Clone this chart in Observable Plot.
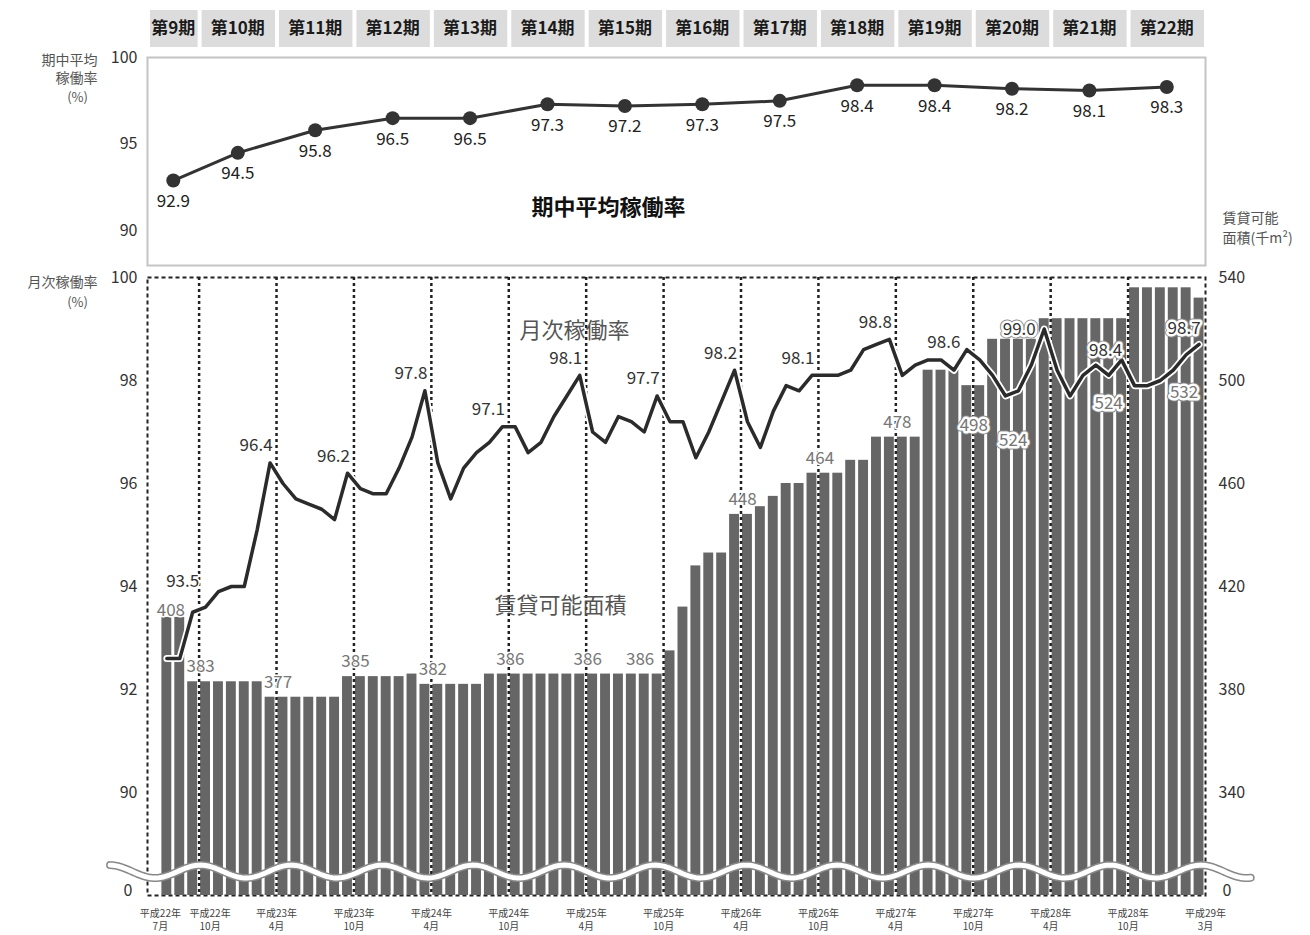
<!DOCTYPE html>
<html>
<head>
<meta charset="utf-8">
<script src="https://cdn.jsdelivr.net/npm/d3@7"></script>
<script src="https://cdn.jsdelivr.net/npm/@observablehq/plot@0.6"></script>
<style>
  body { margin: 0; background: #fff; }
  #chart { width: 1310px; }
  #chart svg { display: block; }
</style>
</head>
<body>
<div id="chart"></div>
<script>
// ---------------- DATA ----------------
const periodNames = ["第9期","第10期","第11期","第12期","第13期","第14期","第15期","第16期","第17期","第18期","第19期","第20期","第21期","第22期"];
const periodEndMonths = ["2010-09","2011-03","2011-09","2012-03","2012-09","2013-03","2013-09","2014-03","2014-09","2015-03","2015-09","2016-03","2016-09","2017-03"];
const periodAverageRate = [92.9, 94.5, 95.8, 96.5, 96.5, 97.3, 97.2, 97.3, 97.5, 98.4, 98.4, 98.2, 98.1, 98.3];

const chartStartMonth = "2010-06";   // left edge of the plotting frame
const firstMonth = "2010-07";        // first monthly value
// 月次稼働率 (%) : 2010-07 … 2017-03
const monthlyRate = [
  92.6, 92.6, 93.5, 93.6, 93.9, 94.0, 94.0, 95.1, 96.4, 96.0,
  95.7, 95.6, 95.5, 95.3, 96.2, 95.9, 95.8, 95.8, 96.3, 96.9,
  97.8, 96.4, 95.7, 96.3, 96.6, 96.8, 97.1, 97.1, 96.6, 96.8,
  97.3, 97.7, 98.1, 97.0, 96.8, 97.3, 97.2, 97.0, 97.7, 97.2,
  97.2, 96.5, 97.0, 97.6, 98.2, 97.2, 96.7, 97.4, 97.9, 97.8,
  98.1, 98.1, 98.1, 98.2, 98.6, 98.7, 98.8, 98.1, 98.3, 98.4,
  98.4, 98.2, 98.6, 98.4, 98.1, 97.7, 97.8, 98.3, 99.0, 98.2,
  97.7, 98.1, 98.3, 98.1, 98.4, 97.9, 97.9, 98.0, 98.2, 98.5,
  98.7
];
// 賃貸可能面積 (千m²) : 2010-07 … 2017-03
const leasableArea = [
  408, 408, 383, 383, 383, 383, 383, 383, 377, 377,
  377, 377, 377, 377, 385, 385, 385, 385, 385, 386,
  382, 382, 382, 382, 382, 386, 386, 386, 386, 386,
  386, 386, 386, 386, 386, 386, 386, 386, 386, 395,
  412, 428, 433, 433, 448, 448, 451, 455, 460, 460,
  464, 464, 464, 469, 469, 478, 478, 478, 478, 504,
  504, 504, 498, 498, 516, 516, 516, 516, 524, 524,
  524, 524, 524, 524, 524, 536, 536, 536, 536, 536,
  532
];

const xTickMonths = ["2010-07","2010-10","2011-04","2011-10","2012-04","2012-10","2013-04","2013-10","2014-04","2014-10","2015-04","2015-10","2016-04","2016-10","2017-04"];
const xTickLabels = ["平成22年\n7月","平成22年\n10月","平成23年\n4月","平成23年\n10月","平成24年\n4月","平成24年\n10月","平成25年\n4月","平成25年\n10月","平成26年\n4月","平成26年\n10月","平成27年\n4月","平成27年\n10月","平成28年\n4月","平成28年\n10月","平成29年\n3月"];

const avgTicks = [100, 95, 90];
const rateTicks = [100, 98, 96, 94, 92, 90];
const areaTicks = [540, 500, 460, 420, 380, 340];
const breakLabel = "0";

// axis break: both axes show "0" at the bottom of the frame
const rateBreak = 88, areaBreak = 300, areaPerRatePoint = 20;

// ---------------- HELPERS ----------------
const FONT = '"Noto Sans CJK JP", "Noto Sans", sans-serif';
function monthIndex(s) {
  const [y, m] = s.split("-").map(Number);
  const [y0, m0] = firstMonth.split("-").map(Number);
  return (y - y0) * 12 + (m - m0);
}
const rateToArea = r => areaBreak + (r - rateBreak) * areaPerRatePoint;

const xDomain = [monthIndex(chartStartMonth) - 0.5, monthlyRate.length - 0.5];
const months = monthlyRate.map((rate, i) => ({i, rate, area: leasableArea[i]}));
const endIdx = periodEndMonths.map(monthIndex);
const periods = periodNames.map((name, k) => {
  const start = k === 0 ? xDomain[0] : endIdx[k - 1] + 0.5;
  const end = endIdx[k] + 0.5;
  return {name, start, end, center: (start + end) / 2, avg: periodAverageRate[k]};
});
const boundaries = endIdx.slice(0, -1).map(i => i + 0.5);
const xTicks = xTickMonths.map((m, k) => ({x: monthIndex(m) - 0.5, label: xTickLabels[k], k}));

const W = 1310, ML = 147, MR = 105;
const common = {width: W, marginLeft: ML, marginRight: MR,
  x: {type: "linear", domain: xDomain, axis: null},
  style: {fontFamily: FONT, background: "white", overflow: "visible"}};

// ---------------- HEADER ----------------
const headerChart = Plot.plot({
  ...common, height: 50, marginTop: 10, marginBottom: 3,
  marks: [
    Plot.rect(periods, {x1: "start", x2: "end", fill: "#dcdcdc", insetLeft: 3, insetRight: 1}),
    Plot.text(periods, {x: "center", text: "name", fontSize: 17, fontWeight: "bold", fill: "#1a1a1a"})
  ]
});

// ---------------- TOP CHART (期中平均稼働率) ----------------
const avgChart = Plot.plot({
  ...common, height: 222, marginTop: 7, marginBottom: 7,
  y: {domain: [rateBreak, 100], axis: null},
  marks: [
    Plot.frame({stroke: "#c4c4c4", strokeWidth: 2}),
    Plot.text(avgTicks, {y: d => d, text: d => String(d), frameAnchor: "left", textAnchor: "end", dx: -10, fontSize: 16, fill: "#333"}),
    Plot.text(["期中平均"], {frameAnchor: "top-left", textAnchor: "end", dx: -50, dy: -2, fontSize: 14, fill: "#555"}),
    Plot.text(["稼働率"], {frameAnchor: "top-left", textAnchor: "end", dx: -50, dy: 16, fontSize: 14, fill: "#555"}),
    Plot.text(["(%)"], {frameAnchor: "top-left", textAnchor: "middle", dx: -70, dy: 35, fontSize: 13, fill: "#555"}),
    Plot.line(periods, {x: "center", y: "avg", stroke: "#333", strokeWidth: 3}),
    Plot.dot(periods, {x: "center", y: "avg", r: 7, fill: "#333"}),
    Plot.text(periods, {x: "center", y: "avg", text: d => d.avg.toFixed(1), dy: 21, fontSize: 17, fill: "#222"}),
    Plot.text(["期中平均稼働率"], {frameAnchor: "middle", dx: -68, dy: 46, fontSize: 22, fontWeight: "bold", fill: "#111"}),
    Plot.text(["賃貸可能"], {frameAnchor: "bottom-right", textAnchor: "start", dx: 17, dy: -43, fontSize: 14, fill: "#555"}),
    Plot.text(["面積(千m²)"], {frameAnchor: "bottom-right", textAnchor: "start", dx: 17, dy: -23, fontSize: 14, fill: "#555"})
  ]
});

// ---------------- BOTTOM CHART ----------------
const waveCenter = 309.3, waveAmp = 2.5, waveCrest = 2.6, wavePeriod = 7.05;
const wave = d3.range(-4.4, 84.01, 0.2).map(x => ({x, y: waveCenter + waveAmp * Math.cos(2 * Math.PI * (x - waveCrest) / wavePeriod)}));

const rateLabelOffset = {2: [-10, -31], 62: [-23, -7], 68: [-25, 1], 74: [-16, -9], 80: [-15, -16]};
const areaLabelOffset = {0: [4, -7], 38: [-17, -15], 62: [7, 40], 68: [-31, 122], 74: [-13, 85], 80: [-15, 94]};

function labelMarks(d, yFn, text, fill, off, boxed) {
  const base = {x: "i", y: yFn, text, dx: off[0], dy: off[1], fontSize: 17};
  const out = [];
  if (boxed) {
    out.push(Plot.text([d], {...base, fill: "#8a8a8a", stroke: "#8a8a8a", strokeWidth: 7}));
    out.push(Plot.text([d], {...base, fill, stroke: "white", strokeWidth: 5}));
  } else {
    out.push(Plot.text([d], {...base, fill, stroke: "white", strokeWidth: 3}));
  }
  return out;
}

const areaLabelMarks = [0, ...endIdx].flatMap(i => {
  const off = areaLabelOffset[i] || [8, -15];
  return labelMarks(months[i], "area", d => String(d.area), "#777", off, off[1] > 0);
});
const rateLabelMarks = endIdx.flatMap(i => {
  const off = rateLabelOffset[i] || [-14, -17];
  const boxed = rateToArea(months[i].rate) < months[i].area;
  return labelMarks(months[i], d => rateToArea(d.rate), d => d.rate.toFixed(1), "#333", off, boxed);
});

const monthlyChart = Plot.plot({
  ...common, height: 663, marginTop: 5, marginBottom: 40,
  y: {type: "linear", domain: [areaBreak, 540], axis: null},
  marks: [
    Plot.frame({stroke: "#222", strokeWidth: 2, strokeDasharray: "4,3"}),
    Plot.rect(months, {x1: d => d.i - 0.5, x2: d => d.i + 0.5, y1: () => areaBreak, y2: "area", fill: "#666", insetLeft: 1.5, insetRight: 1.5}),
    Plot.ruleX(boundaries, {stroke: "#222", strokeWidth: 2.5, strokeDasharray: "3,3"}),
    // axis break symbol
    Plot.line(wave, {x: "x", y: "y", stroke: "#888", strokeWidth: 8}),
    Plot.line(wave, {x: "x", y: "y", stroke: "white", strokeWidth: 5}),
    // left axis (月次稼働率)
    Plot.text(rateTicks, {y: d => rateToArea(d), text: d => String(d), frameAnchor: "left", textAnchor: "end", dx: -10, fontSize: 16, fill: "#333"}),
    Plot.text([breakLabel], {frameAnchor: "bottom-left", textAnchor: "end", dx: -15, fontSize: 16, fill: "#333"}),
    Plot.text(["月次稼働率"], {frameAnchor: "top-left", textAnchor: "end", dx: -50, fontSize: 14, fill: "#555"}),
    Plot.text(["(%)"], {frameAnchor: "top-left", textAnchor: "middle", dx: -70, dy: 20, fontSize: 13, fill: "#555"}),
    // right axis (賃貸可能面積)
    Plot.text(areaTicks, {y: d => d, text: d => String(d), frameAnchor: "right", textAnchor: "start", dx: 13, fontSize: 16, fill: "#333"}),
    Plot.text([breakLabel], {frameAnchor: "bottom-right", textAnchor: "start", dx: 17, fontSize: 16, fill: "#333"}),
    // x tick labels
    Plot.text(xTicks, {x: "x", text: "label", frameAnchor: "bottom", lineAnchor: "top", dy: 12, fontSize: 10, lineHeight: 1.3, fill: "#444",
      filter: d => d.k !== 1}),
    Plot.text(xTicks, {x: "x", text: "label", frameAnchor: "bottom", lineAnchor: "top", dy: 12, fontSize: 10, lineHeight: 1.3, fill: "#444", dx: 11,
      filter: d => d.k === 1}),
    // series titles
    Plot.text(["月次稼働率"], {frameAnchor: "middle", dx: -102, dy: -256, fontSize: 22, fill: "#555"}),
    Plot.text(["賃貸可能面積"], {frameAnchor: "middle", dx: -116, dy: 19, fontSize: 22, fill: "#555"}),
    ...areaLabelMarks,
    // monthly occupancy line
    Plot.line(months, {x: "i", y: d => rateToArea(d.rate), stroke: "white", strokeWidth: 7, strokeLinejoin: "round"}),
    Plot.line(months, {x: "i", y: d => rateToArea(d.rate), stroke: "#2b2b2b", strokeWidth: 3.5, strokeLinejoin: "round"}),
    ...rateLabelMarks
  ]
});

document.getElementById("chart").append(headerChart, avgChart, monthlyChart);
</script>
</body>
</html>
